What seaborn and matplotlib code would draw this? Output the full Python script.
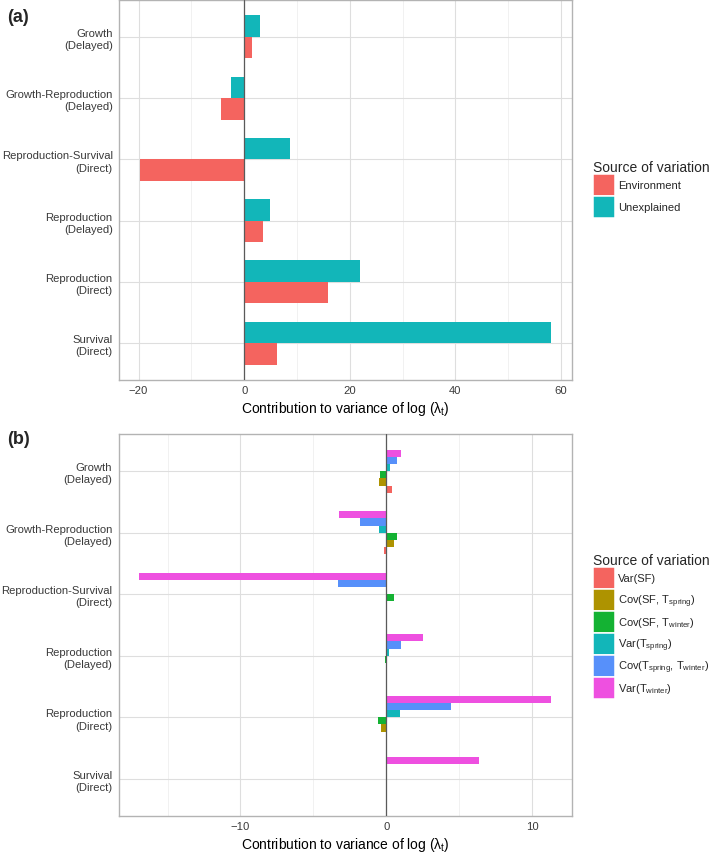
import numpy as np
import pandas as pd
import matplotlib
matplotlib.use("Agg")
import matplotlib.pyplot as plt
import seaborn as sns
from matplotlib.patches import Patch
from matplotlib.ticker import FixedLocator

# ---------------- data ----------------
categories = [
    "Growth\n(Delayed)",
    "Growth-Reproduction\n(Delayed)",
    "Reproduction-Survival\n(Direct)",
    "Reproduction\n(Delayed)",
    "Reproduction\n(Direct)",
    "Survival\n(Direct)",
]

sources_a = ["Environment", "Unexplained"]
environment = [1.5, -4.4, -19.8, 3.5, 15.8, 6.2]
unexplained = [3.0, -2.5, 8.6, 4.85, 21.9, 58.1]

sources_b = [
    r"Var(SF)",
    r"Cov(SF, T$_{\mathrm{spring}}$)",
    r"Cov(SF, T$_{\mathrm{winter}}$)",
    r"Var(T$_{\mathrm{spring}}$)",
    r"Cov(T$_{\mathrm{spring}}$, T$_{\mathrm{winter}}$)",
    r"Var(T$_{\mathrm{winter}}$)",
]
var_sf = [0.41, -0.14, 0.0, 0.0, 0.05, 0.0]
cov_sf_spring = [-0.5, 0.5, 0.02, -0.05, -0.34, 0.0]
cov_sf_winter = [-0.43, 0.75, 0.5, -0.11, -0.57, -0.05]
var_spring = [0.27, -0.48, 0.0, 0.18, 0.91, 0.0]
cov_spring_winter = [0.73, -1.8, -3.29, 0.98, 4.43, 0.02]
var_winter = [1.0, -3.22, -16.96, 2.51, 11.28, 6.35]

colors_a = ["#F4645F", "#12B6B9"]
colors_b = ["#F4645F", "#AE9300", "#14B233", "#12B6B9", "#5790FA", "#EE50E0"]

xlabel = "Contribution to variance of log (λ$_{\\mathrm{t}}$)"

# ---------------- tables ----------------
df_a = pd.DataFrame({
    "category": categories * 2,
    "source": [sources_a[0]] * 6 + [sources_a[1]] * 6,
    "value": environment + unexplained,
})
series_b = [var_sf, cov_sf_spring, cov_sf_winter, var_spring, cov_spring_winter, var_winter]
df_b = pd.DataFrame({
    "category": categories * 6,
    "source": [s for s in sources_b for _ in range(6)],
    "value": [v for ser in series_b for v in ser],
})

# ---------------- style ----------------
sns.set_theme(style="white")
plt.rcParams["font.family"] = ["Liberation Sans", "DejaVu Sans"]
plt.rcParams["mathtext.fontset"] = "custom"
plt.rcParams["mathtext.rm"] = "Liberation Sans"
plt.rcParams["mathtext.it"] = "Liberation Sans:italic"
plt.rcParams["mathtext.bf"] = "Liberation Sans:bold"

W, H = 709, 854
fig = plt.figure(figsize=(W / 100, H / 100), dpi=100)


def add_ax(l, t, r, b):
    return fig.add_axes([l / W, 1 - b / H, (r - l) / W, (b - t) / H])


ax_a = add_ax(119, 1, 571.7, 381)
ax_b = add_ax(118.5, 435.3, 571.7, 816.7)

for ax, df, hue_order, pal in [(ax_a, df_a, sources_a, colors_a), (ax_b, df_b, sources_b, colors_b)]:
    sns.barplot(data=df, y="category", x="value", hue="source", order=categories[::-1],
                hue_order=hue_order, palette=pal, saturation=1, width=0.7, orient="h",
                ax=ax, legend=False, linewidth=0, errorbar=None)


def style(ax, xlim, major, minor, labels, colors, leg_y):
    ax.set_ylim(-0.6, 5.6)
    ax.set_xlim(*xlim)
    ax.xaxis.set_major_locator(FixedLocator(major))
    ax.xaxis.set_minor_locator(FixedLocator(minor))
    ax.grid(True, which="major", color="#DEDEDE", lw=0.8)
    ax.grid(True, which="minor", axis="x", color="#EBEBEB", lw=0.5)
    ax.set_axisbelow(True)
    ax.axvline(0, color="#5A5A5A", lw=0.9, zorder=3)
    for s in ax.spines.values():
        s.set_visible(True)
        s.set_color("#B3B3B3")
        s.set_linewidth(1.0)
    ax.tick_params(which="both", length=0, labelsize=8.1, labelcolor="#3A3A3A")
    ax.tick_params(axis="y", pad=4.5)
    ax.tick_params(axis="x", pad=3.5)
    for lab in ax.get_yticklabels():
        lab.set_linespacing(1.28)
    ax.set_ylabel("")
    ax.set_xlabel(xlabel, fontsize=10, color="black", labelpad=3)
    handles = [Patch(facecolor=c, edgecolor="white", linewidth=1.1) for c in colors]
    ax.legend(handles, labels, title="Source of variation", loc="center left",
              bbox_to_anchor=(593 / W, 1 - leg_y / H), bbox_transform=fig.transFigure,
              frameon=False, fontsize=8, title_fontsize=10, handlelength=1.98,
              handleheight=2.67, handletextpad=0.25, labelspacing=0.0, borderpad=0,
              borderaxespad=0, alignment="left")


style(ax_a, (-23.7, 62.0), [-20, 0, 20, 40, 60], [-10, 10, 30, 50], sources_a, colors_a, 190)
style(ax_b, (-18.36, 12.70), [-10, 0, 10], [-15, -5, 5], sources_b, colors_b, 627)

fig.text(7 / W, 1 - 18 / H, "(a)", fontsize=13, fontweight="bold", va="center", ha="left")
fig.text(7 / W, 1 - 440 / H, "(b)", fontsize=13, fontweight="bold", va="center", ha="left")

fig.savefig("out.png", dpi=100)
